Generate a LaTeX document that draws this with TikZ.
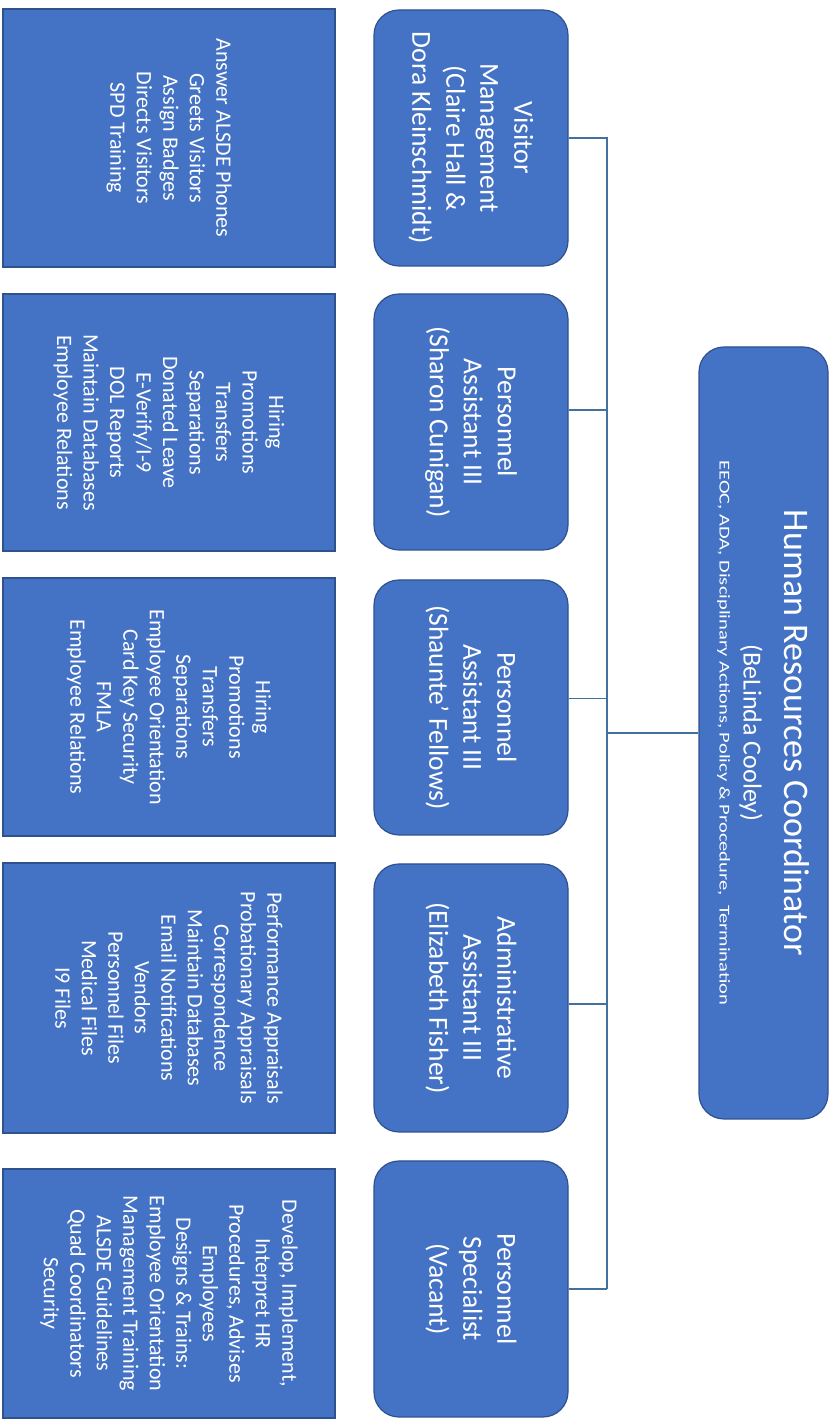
\documentclass[tikz,border=0pt]{standalone}
\usepackage{fontspec}
\setmainfont{Carlito}
\usepackage{graphicx}
\definecolor{boxfill}{HTML}{4472C4}
\definecolor{boxline}{HTML}{2F528F}
\definecolor{conn}{HTML}{41719C}
\begin{document}
\begin{tikzpicture}[x=1pt,y=1pt,
  base/.style={draw=boxline, line width=1.2pt, fill=boxfill, text=white, rotate=-90, inner sep=0pt, align=center},
  rbox/.style={base, rounded corners=25pt, minimum height=194pt, font=\fontsize{27.5}{34}\selectfont},
  tbox/.style={base, minimum height=332pt, font=\fontsize{22}{26.5}\selectfont},
  link/.style={draw=conn, line width=1.5pt}]
\useasboundingbox (0,0) rectangle (830,1419);

\node[base, rounded corners=25pt, minimum width=772pt, minimum height=129pt,
      font=\fontsize{36}{20}\selectfont] (hr) at (763.5,686)
  {\lineskiplimit=-100pt\relax Human Resources Coordinator\\[21pt]
   \fontsize{26}{20}\selectfont (BeLinda Cooley)\\[4pt]
   \fontsize{15}{20}\selectfont\scalebox{1.37}[1]{EEOC, ADA, Disciplinary Actions, Policy \& Procedure,\ \ Termination}};

\node[rbox, minimum width=256pt] (c1) at (471,1281) {Visitor\\Management\\(Claire Hall \&\\Dora Kleinschmidt)};
\node[rbox, minimum width=256pt] (c2) at (471,997) {Personnel\\Assistant III\\(Sharon Cunigan)};
\node[rbox, minimum width=255pt] (c3) at (471,711.5) {Personnel\\Assistant III\\(Shaunte' Fellows)};
\node[rbox, minimum width=268pt] (c4) at (471,421) {Administrative\\Assistant III\\(Elizabeth Fisher)};
\node[rbox, minimum width=256pt] (c5) at (471,130) {Personnel\\Specialist\\(Vacant)};

\node[tbox, minimum width=258pt] (l1) at (169,1281) {Answer ALSDE Phones\\Greets Visitors\\Assign Badges\\Directs Visitors\\SPD Training};
\node[tbox, minimum width=257pt] (l2) at (169,996.5) {Hiring\\Promotions\\Transfers\\Separations\\Donated Leave\\E-Verify/I-9\\DOL Reports\\Maintain Databases\\Employee Relations};
\node[tbox, minimum width=258pt] (l3) at (169,712) {Hiring\\Promotions\\Transfers\\Separations\\Employee Orientation\\Card Key Security\\FMLA\\Employee Relations};
\node[tbox, minimum width=270pt] (l4) at (169,421) {Performance Appraisals\\Probationary Appraisals\\Correspondence\\Maintain Databases\\Email Notifications\\Vendors\\Personnel Files\\Medical Files\\I9 Files};
\node[tbox, minimum width=249pt] (l5) at (169,125.5) {Develop, Implement,\\Interpret HR\\Procedures, Advises\\Employees\\Designs \& Trains:\\Employee Orientation\\Management Training\\ALSDE Guidelines\\Quad Coordinators\\Security};

\coordinate (bt) at (607,1282);
\coordinate (bb) at (607,130);
\coordinate (k1) at (c1.north);
\coordinate (k2) at ([yshift=12pt]c2.north);
\coordinate (k3) at ([yshift=9pt]c3.north);
\coordinate (k4) at ([yshift=-6pt]c4.north);
\coordinate (k5) at (c5.north);
\draw[link] (bt) -- (bb);
\draw[link] (hr.south) -- (hr.south -| bt);
\foreach \k in {k1,k2,k3,k4,k5} \draw[link] (\k) -- (\k -| bt);
\end{tikzpicture}
\end{document}
